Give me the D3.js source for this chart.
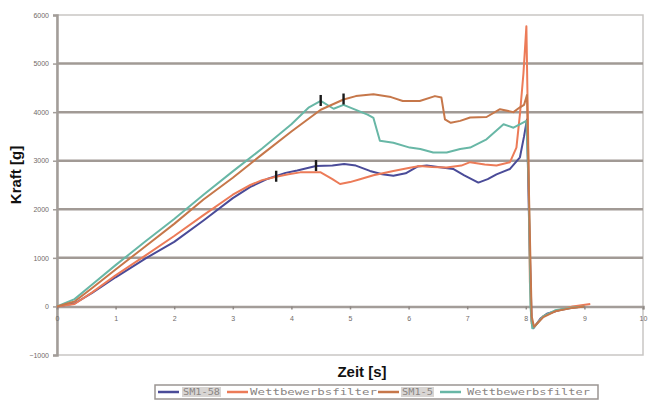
<!DOCTYPE html>
<html lang="de">
<head>
<meta charset="UTF-8">
<title>Kraft / Zeit</title>
<style>
  body { margin: 0; background: #fff; }
  svg { display: block; }
</style>
</head>
<body>
<script src="https://d3js.org/d3.v7.min.js"></script>
<div id="chart"></div>
<script>
// values (time in s, force in g)
var xTicks = [0, 1, 2, 3, 4, 5, 6, 7, 8, 9, 10];
var yTicks = [-1000, 0, 1000, 2000, 3000, 4000, 5000, 6000];
var seriesNames = ["SM1-58", "Wettbewerbsfilter", "SM1-5", "Wettbewerbsfilter"];

var blueT = [0, 0.3, 0.6, 1.0, 1.5, 2.0, 2.5, 3.0, 3.3, 3.6, 3.9, 4.1, 4.42, 4.7, 4.9, 5.1, 5.34, 5.55, 5.74, 5.95, 6.15, 6.31, 6.5, 6.76, 6.95, 7.19, 7.35, 7.5, 7.73, 7.9, 7.97, 8.02, 8.06, 8.1, 8.13, 8.25, 8.36, 8.58, 8.81, 9.0];
var blueF = [0, 60, 280, 600, 980, 1330, 1770, 2230, 2460, 2630, 2750, 2800, 2890, 2900, 2930, 2900, 2790, 2720, 2690, 2740, 2880, 2900, 2870, 2830, 2700, 2550, 2620, 2720, 2830, 3070, 3500, 3850, 1500, -300, -450, -250, -150, -75, -20, 0];

var redT = [0, 0.3, 0.6, 1.0, 1.5, 2.0, 2.5, 3.0, 3.3, 3.5, 3.74, 3.95, 4.15, 4.5, 4.7, 4.83, 5.0, 5.17, 5.4, 5.74, 6.0, 6.19, 6.4, 6.65, 6.9, 7.05, 7.3, 7.5, 7.73, 7.84, 7.9, 7.96, 8.01, 8.04, 8.07, 8.1, 8.14, 8.3, 8.5, 8.8, 9.1];
var redF = [0, 50, 290, 640, 1040, 1450, 1880, 2300, 2500, 2600, 2670, 2720, 2760, 2760, 2620, 2520, 2560, 2620, 2700, 2790, 2850, 2890, 2870, 2860, 2900, 2970, 2920, 2900, 2970, 3270, 3960, 4800, 5770, 3500, 500, -350, -420, -200, -100, 0, 50];

var brownT = [0, 0.3, 0.6, 1.0, 1.5, 2.0, 2.5, 3.0, 3.5, 4.0, 4.5, 4.89, 5.1, 5.4, 5.7, 5.9, 6.19, 6.45, 6.56, 6.62, 6.72, 6.88, 7.05, 7.33, 7.56, 7.79, 7.9, 7.97, 8.02, 8.06, 8.1, 8.14, 8.3, 8.5, 8.8, 9.0];
var brownF = [0, 100, 380, 760, 1230, 1700, 2200, 2650, 3130, 3600, 4050, 4260, 4330, 4370, 4310, 4230, 4230, 4330, 4300, 3850, 3780, 3820, 3890, 3900, 4060, 4000, 4100, 4150, 4350, 2000, -200, -420, -220, -100, -30, 0];

var tealT = [0, 0.3, 0.6, 1.0, 1.5, 2.0, 2.5, 3.0, 3.5, 4.0, 4.3, 4.5, 4.72, 4.89, 5.11, 5.3, 5.4, 5.51, 5.74, 6.02, 6.2, 6.42, 6.65, 6.88, 7.05, 7.33, 7.62, 7.79, 8.01, 8.05, 8.08, 8.11, 8.14, 8.3, 8.5, 8.8, 9.0];
var tealF = [0, 150, 450, 850, 1330, 1800, 2300, 2780, 3250, 3750, 4100, 4230, 4070, 4150, 4040, 3950, 3880, 3410, 3370, 3270, 3240, 3170, 3170, 3240, 3270, 3440, 3750, 3680, 3820, 2500, 0, -450, -430, -200, -80, -20, 0];

// small black marks on the curves (t, F)
var markT = [3.74, 4.42, 4.5, 4.89];
var markF = [2670, 2890, 4230, 4260];

var colors = ["#4a4b98", "#ec7b58", "#c6774a", "#68b7a6"];

var width = 651, height = 413;
var svg = d3.select("#chart").append("svg")
    .attr("width", width)
    .attr("height", height);

var x = d3.scaleLinear().domain([0, 10]).range([57, 643]);
var y = d3.scaleLinear().domain([-1000, 6000]).range([355, 15]);

// plot frame
svg.append("rect")
    .attr("x", x(0)).attr("y", y(6000))
    .attr("width", x(10) - x(0)).attr("height", y(-1000) - y(6000))
    .attr("fill", "none").attr("stroke", "#c9c6c4").attr("stroke-width", 1.5);

// gridlines
svg.selectAll(".grid")
    .data(yTicks.filter(function(d) { return d > 0 && d < 6000; }))
    .enter().append("line")
    .attr("x1", x(0)).attr("x2", x(10))
    .attr("y1", function(d) { return y(d); })
    .attr("y2", function(d) { return y(d); })
    .attr("stroke", "#a19a95").attr("stroke-width", 2.5);

// y axis
var yAxis = svg.append("g")
    .attr("transform", "translate(" + x(0) + ",0)")
    .call(d3.axisLeft(y).tickValues(yTicks).tickFormat(d3.format("d")).tickSize(4).tickPadding(4));
yAxis.select(".domain").attr("stroke", "#a39d99").attr("stroke-width", 2.5);
yAxis.selectAll(".tick line").attr("stroke", "#a39d99").attr("stroke-width", 1.5);
yAxis.selectAll("text")
    .attr("fill", "#6f6a68")
    .style("font-family", "Liberation Sans, Arial, sans-serif")
    .style("font-size", "7px");

// x axis at zero
var xAxis = svg.append("g")
    .attr("transform", "translate(0," + y(0) + ")")
    .call(d3.axisBottom(x).tickValues(xTicks).tickFormat(d3.format("d")).tickSize(3).tickPadding(7));
xAxis.select(".domain").attr("stroke", "#a39d99").attr("stroke-width", 2.5);
xAxis.selectAll(".tick line").attr("stroke", "#8f8884").attr("stroke-width", 1.5);
xAxis.selectAll("text")
    .attr("fill", "#6f6a68")
    .style("font-family", "Liberation Sans, Arial, sans-serif")
    .style("font-size", "7px");

// curves
var series = [
    { t: blueT, f: blueF },
    { t: redT, f: redF },
    { t: brownT, f: brownF },
    { t: tealT, f: tealF }
];
var line = d3.line()
    .x(function(d) { return x(d[0]); })
    .y(function(d) { return y(d[1]); })
    .curve(d3.curveLinear);

// draw order: blue, red, teal, brown so that the brown sits above teal like the picture
[0, 1, 3, 2].forEach(function(i) {
    var s = series[i];
    var pts = s.t.map(function(t, k) { return [t, s.f[k]]; });
    svg.append("path")
        .attr("d", line(pts))
        .attr("fill", "none")
        .attr("stroke", colors[i])
        .attr("stroke-width", 2)
        .attr("stroke-linejoin", "round");
});

// markers
svg.selectAll(".mark")
    .data(markT)
    .enter().append("rect")
    .attr("x", function(d) { return x(d) - 1.2; })
    .attr("y", function(d, i) { return y(markF[i]) - 6; })
    .attr("width", 2.4).attr("height", 11)
    .attr("fill", "#1a1a1a");

// axis titles
svg.append("text")
    .attr("transform", "translate(21,175) rotate(-90)")
    .attr("text-anchor", "middle")
    .style("font-family", "Liberation Sans, Arial, sans-serif")
    .style("font-weight", "bold")
    .style("font-size", "15px")
    .attr("fill", "#111")
    .text("Kraft [g]");

svg.append("text")
    .attr("x", 362).attr("y", 377)
    .attr("text-anchor", "middle")
    .style("font-family", "Liberation Sans, Arial, sans-serif")
    .style("font-weight", "bold")
    .style("font-size", "15px")
    .attr("fill", "#111")
    .text("Zeit [s]");

// legend
var legend = svg.append("g");
legend.append("rect")
    .attr("x", 155).attr("y", 385).attr("width", 443).attr("height", 14)
    .attr("fill", "#fff").attr("stroke", "#9b9592").attr("stroke-width", 1.5);

var legSample = [158, 227, 378, 440];
var legText = [183, 250, 402, 467];
var legTextW = [37, 127, 31, 123];
seriesNames.forEach(function(name, i) {
    legend.append("line")
        .attr("x1", legSample[i]).attr("x2", legSample[i] + 21)
        .attr("y1", 392).attr("y2", 392)
        .attr("stroke", colors[i]).attr("stroke-width", 2.5);
    if (i === 0 || i === 2) {
        legend.append("rect")
            .attr("x", legText[i] - 1).attr("y", 387)
            .attr("width", legTextW[i] + 2).attr("height", 10)
            .attr("fill", "#d8d5d3");
    }
    legend.append("text")
        .attr("x", legText[i]).attr("y", 395)
        .attr("textLength", legTextW[i])
        .attr("lengthAdjust", "spacingAndGlyphs")
        .style("font-family", "DejaVu Sans Mono, monospace")
        .style("font-size", "8px")
        .attr("fill", "#8a8583")
        .text(name);
});
</script>
</body>
</html>
